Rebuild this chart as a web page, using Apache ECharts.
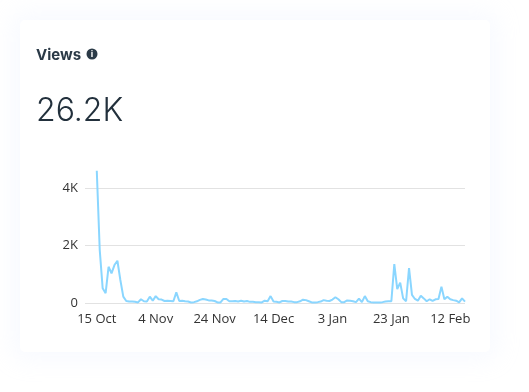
<!DOCTYPE html>
<html>
<head>
<meta charset="utf-8">
<style>
  html, body { margin: 0; padding: 0; background: #fff; width: 529px; height: 392px; overflow: hidden; }
  #card { position: absolute; left: 20px; top: 20px; width: 470px; height: 332px; background: #fff; border-radius: 5px;
          box-shadow: 0 0 22px 8px rgba(225, 230, 255, 0.22); }
  #chart { position: absolute; left: 0; top: 0; width: 529px; height: 392px; }
</style>
</head>
<body>
<div id="card"></div>
<div id="chart"></div>
<script src="https://cdn.jsdelivr.net/npm/echarts@6/dist/echarts.min.js"></script>
<script>
// daily views, 15 Oct onwards
const views = [
  4600, 1850, 510, 340, 1260, 1030, 1320, 1470, 800, 220,
  70, 50, 50, 40, 20, 130, 60, 50, 220, 80,
  240, 130, 120, 70, 80, 70, 60, 370, 70, 80,
  60, 50, 20, 30, 60, 110, 140, 120, 90, 90,
  70, 20, 20, 140, 140, 60, 60, 70, 50, 80,
  50, 70, 40, 40, 30, 30, 20, 80, 60, 240,
  50, 40, 20, 70, 70, 50, 50, 30, 30, 60,
  115, 100, 60, 20, 20, 30, 50, 100, 80, 70,
  120, 200, 130, 30, 30, 90, 80, 60, 30, 150,
  30, 240, 60, 30, 20, 20, 20, 30, 50, 60,
  60, 1350, 480, 710, 160, 60, 1210, 280, 140, 80,
  250, 160, 60, 130, 70, 130, 140, 570, 130, 220,
  130, 100, 80, 20, 160, 50
];
const yTicks = { max: 6000, step: 2000 };
const monthNames = ["Jan", "Feb", "Mar", "Apr", "May", "Jun", "Jul", "Aug", "Sep", "Oct", "Nov", "Dec"];
const padDays = 4; // the line starts a little way in from the axis start
const labelEvery = 20;

const dates = [];
for (let i = 0; i < views.length; i++) {
  const d = new Date(2020, 9, 15 + i);
  dates.push(d.getDate() + " " + monthNames[d.getMonth()]);
}
const categories = new Array(padDays).fill("").concat(dates);
const seriesData = new Array(padDays).fill(null).concat(views);

const chart = echarts.init(document.getElementById("chart"), null, { renderer: "canvas" });
const titleFont = "Inter, 'Open Sans', sans-serif";
const labelFont = "'Open Sans', 'Noto Sans', sans-serif";

chart.setOption({
  backgroundColor: "transparent",
  animation: false,
  grid: { left: 85, right: 64, top: 130.5, bottom: 89 },
  graphic: [
    { type: "text", left: 36, top: 48, style: { text: "Views", font: "700 15px " + titleFont, fill: "#2b3a47" } },
    { type: "circle", shape: { cx: 92, cy: 54, r: 5.5 }, style: { fill: "#2b3a47" } },
    { type: "text", x: 92, y: 54.5, style: { text: "i", font: "700 9px " + titleFont, fill: "#fff", align: "center", verticalAlign: "middle" } },
    { type: "text", left: 36, top: 95, style: { text: "26.2K", font: "300 32px " + titleFont, fill: "#22303c" } }
  ],
  xAxis: {
    type: "category",
    boundaryGap: false,
    data: categories,
    axisLine: { show: false },
    axisTick: { show: false },
    splitLine: { show: false },
    axisLabel: {
      interval: (index) => index >= padDays && (index - padDays) % labelEvery === 0,
      color: "#333",
      fontFamily: labelFont,
      fontSize: 13,
      margin: 10,
      hideOverlap: false
    }
  },
  yAxis: {
    type: "value",
    min: 0,
    max: yTicks.max,
    interval: yTicks.step,
    axisLine: { show: false },
    axisTick: { show: false },
    splitLine: { show: true, showMaxLine: false, lineStyle: { color: "#e2e2e2", width: 1 } },
    axisLabel: {
      showMaxLabel: false,
      color: "#333",
      fontFamily: labelFont,
      fontSize: 13,
      margin: 7,
      padding: [3, 0, 0, 0],
      formatter: (v) => (v === 0 ? "0" : v / 1000 + "K")
    }
  },
  series: [
    {
      name: "Views",
      type: "line",
      data: seriesData,
      showSymbol: false,
      connectNulls: false,
      lineStyle: { color: "#8ad6ff", width: 2 }
    }
  ]
});
</script>
</body>
</html>
